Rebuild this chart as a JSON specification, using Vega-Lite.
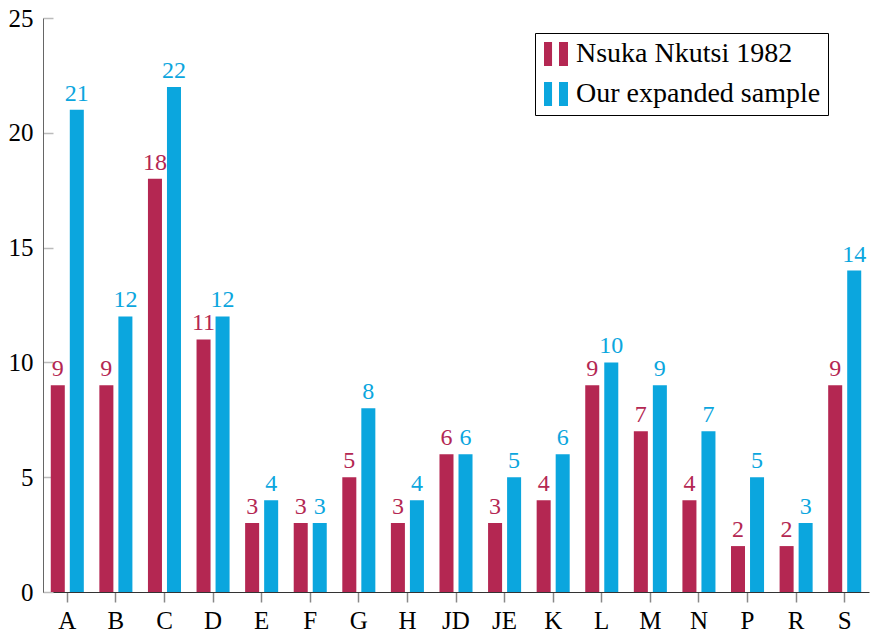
{
  "$schema": "https://vega.github.io/schema/vega-lite/v6.json",
  "width": 826,
  "height": 574,
  "autosize": "none",
  "padding": {"left": 43, "top": 18, "right": 2, "bottom": 45},
  "background": "white",
  "config": {
    "view": {"stroke": null},
    "font": "Liberation Serif",
    "axis": {"grid": false, "labelFont": "Liberation Serif", "labelFontSize": 25, "labelColor": "black", "domainColor": "#555", "tickColor": "#aaa", "tickWidth": 1.5, "title": null}
  },
  "data": {
    "values": [
      {"cat": "A", "series": "Nsuka Nkutsi 1982", "value": 9},
      {"cat": "B", "series": "Nsuka Nkutsi 1982", "value": 9},
      {"cat": "C", "series": "Nsuka Nkutsi 1982", "value": 18},
      {"cat": "D", "series": "Nsuka Nkutsi 1982", "value": 11},
      {"cat": "E", "series": "Nsuka Nkutsi 1982", "value": 3},
      {"cat": "F", "series": "Nsuka Nkutsi 1982", "value": 3},
      {"cat": "G", "series": "Nsuka Nkutsi 1982", "value": 5},
      {"cat": "H", "series": "Nsuka Nkutsi 1982", "value": 3},
      {"cat": "JD", "series": "Nsuka Nkutsi 1982", "value": 6},
      {"cat": "JE", "series": "Nsuka Nkutsi 1982", "value": 3},
      {"cat": "K", "series": "Nsuka Nkutsi 1982", "value": 4},
      {"cat": "L", "series": "Nsuka Nkutsi 1982", "value": 9},
      {"cat": "M", "series": "Nsuka Nkutsi 1982", "value": 7},
      {"cat": "N", "series": "Nsuka Nkutsi 1982", "value": 4},
      {"cat": "P", "series": "Nsuka Nkutsi 1982", "value": 2},
      {"cat": "R", "series": "Nsuka Nkutsi 1982", "value": 2},
      {"cat": "S", "series": "Nsuka Nkutsi 1982", "value": 9},
      {"cat": "A", "series": "Our expanded sample", "value": 21},
      {"cat": "B", "series": "Our expanded sample", "value": 12},
      {"cat": "C", "series": "Our expanded sample", "value": 22},
      {"cat": "D", "series": "Our expanded sample", "value": 12},
      {"cat": "E", "series": "Our expanded sample", "value": 4},
      {"cat": "F", "series": "Our expanded sample", "value": 3},
      {"cat": "G", "series": "Our expanded sample", "value": 8},
      {"cat": "H", "series": "Our expanded sample", "value": 4},
      {"cat": "JD", "series": "Our expanded sample", "value": 6},
      {"cat": "JE", "series": "Our expanded sample", "value": 5},
      {"cat": "K", "series": "Our expanded sample", "value": 6},
      {"cat": "L", "series": "Our expanded sample", "value": 10},
      {"cat": "M", "series": "Our expanded sample", "value": 9},
      {"cat": "N", "series": "Our expanded sample", "value": 7},
      {"cat": "P", "series": "Our expanded sample", "value": 5},
      {"cat": "R", "series": "Our expanded sample", "value": 3},
      {"cat": "S", "series": "Our expanded sample", "value": 14}
    ]
  },
  "encoding": {
    "x": {
      "field": "cat", "type": "nominal", "sort": null,
      "scale": {"paddingInner": 0.32, "paddingOuter": 0.16},
      "axis": {"labelAngle": 0, "tickSize": 10, "labelPadding": 6, "domainColor": "#333", "tickColor": "#888"}
    },
    "xOffset": {"field": "series", "type": "nominal", "scale": {"paddingInner": 0.263, "paddingOuter": 0}},
    "y": {
      "field": "value", "type": "quantitative",
      "scale": {"domain": [0, 25], "nice": false},
      "axis": {"values": [0, 5, 10, 15, 20, 25], "tickSize": -10, "labelPadding": 20, "domainColor": "#666", "tickColor": "#bbb"}
    },
    "color": {
      "field": "series", "type": "nominal",
      "scale": {"domain": ["Nsuka Nkutsi 1982", "Our expanded sample"], "range": ["#B42752", "#0BA6DE"]},
      "legend": {
        "title": null, "orient": "none", "legendX": 492, "legendY": 15,
        "strokeColor": "black", "fillColor": "white", "padding": 7,
        "symbolType": "M-1,-1H-0.33V1H-1Z M0.25,-1H1V1H0.25Z",
        "symbolSize": 576, "symbolStrokeWidth": 0, "symbolOpacity": 1,
        "labelFont": "Liberation Serif", "labelFontSize": 28, "labelColor": "black",
        "labelOffset": 6, "rowPadding": 12, "labelLimit": 400
      }
    }
  },
  "layer": [
    {"mark": {"type": "bar"}},
    {
      "mark": {"type": "text", "baseline": "alphabetic", "dy": -9, "fontSize": 24, "font": "Liberation Serif"},
      "encoding": {"text": {"field": "value", "type": "quantitative"}}
    }
  ]
}
